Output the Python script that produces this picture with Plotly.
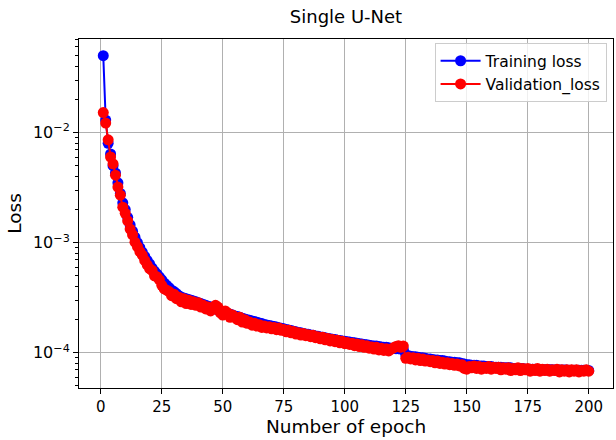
import plotly.graph_objects as go

epochs = list(range(1, 201))

training_loss = [
    0.050, 0.0130, 0.0080, 0.0064, 0.0050, 0.0043, 0.0035, 0.0028, 0.0023, 0.0020,
    0.00170, 0.00145, 0.00127, 0.00112, 0.00100, 0.00090, 0.00082, 0.00075, 0.00069, 0.00064,
    0.00059, 0.00055, 0.00052, 0.00049, 0.00046, 0.00043, 0.00041, 0.00039, 0.00037, 0.00036,
    0.000345, 0.00033, 0.00032, 0.000315, 0.00031, 0.000305, 0.00030, 0.000295, 0.00029, 0.000285,
    0.00028, 0.000275, 0.00027, 0.000265, 0.00026, 0.000255, 0.00025, 0.000245, 0.00024, 0.000235,
    0.000232, 0.000228, 0.000224, 0.00022, 0.000216, 0.000213, 0.00021, 0.000206, 0.000203, 0.00020,
    0.000197, 0.000194, 0.000192, 0.000189, 0.000186, 0.000184, 0.000181, 0.000179, 0.000177, 0.000175,
    0.000173, 0.000171, 0.000169, 0.000167, 0.000165, 0.000163, 0.000161, 0.000159, 0.000157, 0.000155,
    0.000153, 0.000152, 0.000150, 0.000148, 0.000147, 0.000145, 0.000144, 0.000142, 0.000141, 0.000139,
    0.000138, 0.000137, 0.000135, 0.000134, 0.000133, 0.000132, 0.000130, 0.000129, 0.000128, 0.000127,
    0.000126, 0.000125, 0.000124, 0.000123, 0.000122, 0.000121, 0.000120, 0.000119, 0.000118, 0.000117,
    0.000116, 0.000115, 0.000115, 0.000114, 0.000113, 0.000112, 0.000112, 0.000111, 0.000110, 0.000110,
    0.000109, 0.000109, 0.000108, 0.000107, 0.000096, 0.000094, 0.000093, 0.000092, 0.000092, 0.000091,
    0.000090, 0.000090, 0.000089, 0.000088, 0.000088, 0.000087, 0.000086, 0.000086, 0.000085, 0.000085,
    0.000084, 0.000083, 0.000083, 0.000082, 0.000082, 0.000081, 0.000081, 0.000080, 0.000079, 0.000078,
    0.000078, 0.000077, 0.000077, 0.000077, 0.000076, 0.000076, 0.000076, 0.000075, 0.000075, 0.000075,
    0.000074, 0.000074, 0.000074, 0.000074, 0.000073, 0.000073, 0.000073, 0.000073, 0.000072, 0.000072,
    0.000072, 0.000072, 0.000072, 0.000071, 0.000071, 0.000071, 0.000071, 0.000071, 0.000070, 0.000070,
    0.000070, 0.000070, 0.000070, 0.000070, 0.0000700, 0.0000698, 0.0000698, 0.0000697, 0.0000697, 0.0000696,
    0.0000696, 0.0000695, 0.0000695, 0.0000694, 0.0000694, 0.0000693, 0.0000693, 0.0000692, 0.0000692, 0.0000691,
]

validation_loss = [
    0.0152, 0.0122, 0.0086, 0.0060, 0.0052, 0.0041, 0.0032, 0.0027, 0.0021, 0.00185,
    0.00158, 0.00133, 0.00118, 0.00101, 0.00092, 0.00083, 0.00077, 0.00069, 0.00063, 0.00058,
    0.00056, 0.00050, 0.00049, 0.00046, 0.00041, 0.00038, 0.00037, 0.00036, 0.00033, 0.00034,
    0.00031, 0.00032, 0.00029, 0.00031, 0.00028, 0.00030, 0.000275, 0.00029, 0.00027, 0.000285,
    0.00026, 0.00027, 0.00025, 0.00026, 0.00024, 0.00025, 0.00027, 0.00026, 0.00023, 0.00022,
    0.00024, 0.00023, 0.00021, 0.00022, 0.00021, 0.00020, 0.00021, 0.00019, 0.00020, 0.000185,
    0.00019, 0.000178, 0.000185, 0.000175, 0.00018, 0.00017, 0.000175, 0.000168, 0.000172, 0.000165,
    0.00017, 0.000162, 0.000168, 0.00016, 0.000163, 0.000155, 0.00016, 0.000152, 0.000156, 0.000148,
    0.000152, 0.000145, 0.00015, 0.000143, 0.000146, 0.00014, 0.000144, 0.000137, 0.00014, 0.000134,
    0.000138, 0.000131, 0.000135, 0.000128, 0.000132, 0.000126, 0.00013, 0.000123, 0.000127, 0.000121,
    0.000124, 0.000119, 0.000122, 0.000116, 0.00012, 0.000114, 0.000118, 0.000112, 0.000116, 0.00011,
    0.000113, 0.000108, 0.000112, 0.000106, 0.00011, 0.000105, 0.000109, 0.000104, 0.000108, 0.000111,
    0.000114, 0.000116, 0.000112, 0.000115, 0.000089, 0.000091, 0.000088, 0.00009, 0.000086, 0.000089,
    0.000085, 0.000088, 0.000084, 0.000086, 0.000083, 0.000085, 0.000081, 0.000084, 0.00008, 0.000082,
    0.000079, 0.000081, 0.000078, 0.00008, 0.000077, 0.000079, 0.000076, 0.000078, 0.000072, 0.000071,
    0.000075, 0.000073, 0.000076, 0.000072, 0.000075, 0.000071, 0.000074, 0.000072, 0.000075, 0.000071,
    0.000074, 0.000072, 0.000074, 0.00007, 0.000073, 0.000071, 0.000073, 0.000069, 0.000072, 0.00007,
    0.000073, 0.000069, 0.000072, 0.00007, 0.000072, 0.000068, 0.000071, 0.000069, 0.000072, 0.000068,
    0.000071, 0.000069, 0.000071, 0.000068, 0.00007, 0.000069, 0.000071, 0.000067, 0.00007, 0.000068,
    0.00007, 0.000067, 0.00007, 0.000068, 0.00007, 0.000067, 0.000069, 0.000068, 0.00007, 0.000068,
]

x_ticks = [0, 25, 50, 75, 100, 125, 150, 175, 200]
y_ticks = [1e-4, 1e-3, 1e-2]
y_tick_labels = ["10<sup>\u22124</sup>", "10<sup>\u22123</sup>", "10<sup>\u22122</sup>"]

minor_y = [m * 10.0 ** d for d in (-5, -4, -3, -2) for m in range(2, 10)]

FONT = "DejaVu Sans"

fig = go.Figure()
fig.add_trace(go.Scatter(
    x=epochs, y=training_loss, mode="lines+markers", name="Training loss",
    line=dict(color="#0000ff", width=2),
    marker=dict(color="#0000ff", size=11),
))
fig.add_trace(go.Scatter(
    x=epochs, y=validation_loss, mode="lines+markers", name="Validation_loss",
    line=dict(color="#ff0000", width=2),
    marker=dict(color="#ff0000", size=11),
))

fig.update_layout(
    width=616, height=440,
    margin=dict(l=79, r=3, t=39, b=52),
    paper_bgcolor="white", plot_bgcolor="white",
    font=dict(family=FONT, color="black", size=15),
    title=dict(text="Single U-Net", x=0.5, xref="paper", xanchor="center",
               y=1, yref="container", yanchor="top", pad=dict(t=10),
               font=dict(size=18, family=FONT, color="black")),
    showlegend=True,
    legend=dict(x=0.988, y=0.988, xanchor="right", yanchor="top",
                bgcolor="rgba(255,255,255,0.8)", bordercolor="#cccccc", borderwidth=1,
                font=dict(size=15.5, family=FONT, color="black"),
                itemwidth=40, tracegroupgap=2),
    xaxis=dict(
        range=[-8.95, 209.95], tickvals=x_ticks,
        showgrid=True, gridcolor="#b0b0b0", gridwidth=1,
        showline=True, linecolor="black", linewidth=1, mirror=True,
        ticks="outside", ticklen=5, tickcolor="black",
        zeroline=False,
        title=dict(text="Number of epoch", font=dict(size=18.5, family=FONT), standoff=3),
        tickfont=dict(size=15, family=FONT),
    ),
    yaxis=dict(
        type="log", range=[-4.32, -1.15],
        tickvals=y_ticks, ticktext=y_tick_labels,
        showgrid=True, gridcolor="#b0b0b0", gridwidth=1,
        showline=True, linecolor="black", linewidth=1, mirror=True,
        ticks="outside", ticklen=5, tickcolor="black",
        zeroline=False,
        minor=dict(tickvals=minor_y, ticks="outside", ticklen=3, tickcolor="black", showgrid=False),
        title=dict(text="Loss", font=dict(size=18.5, family=FONT), standoff=6),
        tickfont=dict(size=16, family=FONT),
    ),
)

fig.write_html("out.html")
